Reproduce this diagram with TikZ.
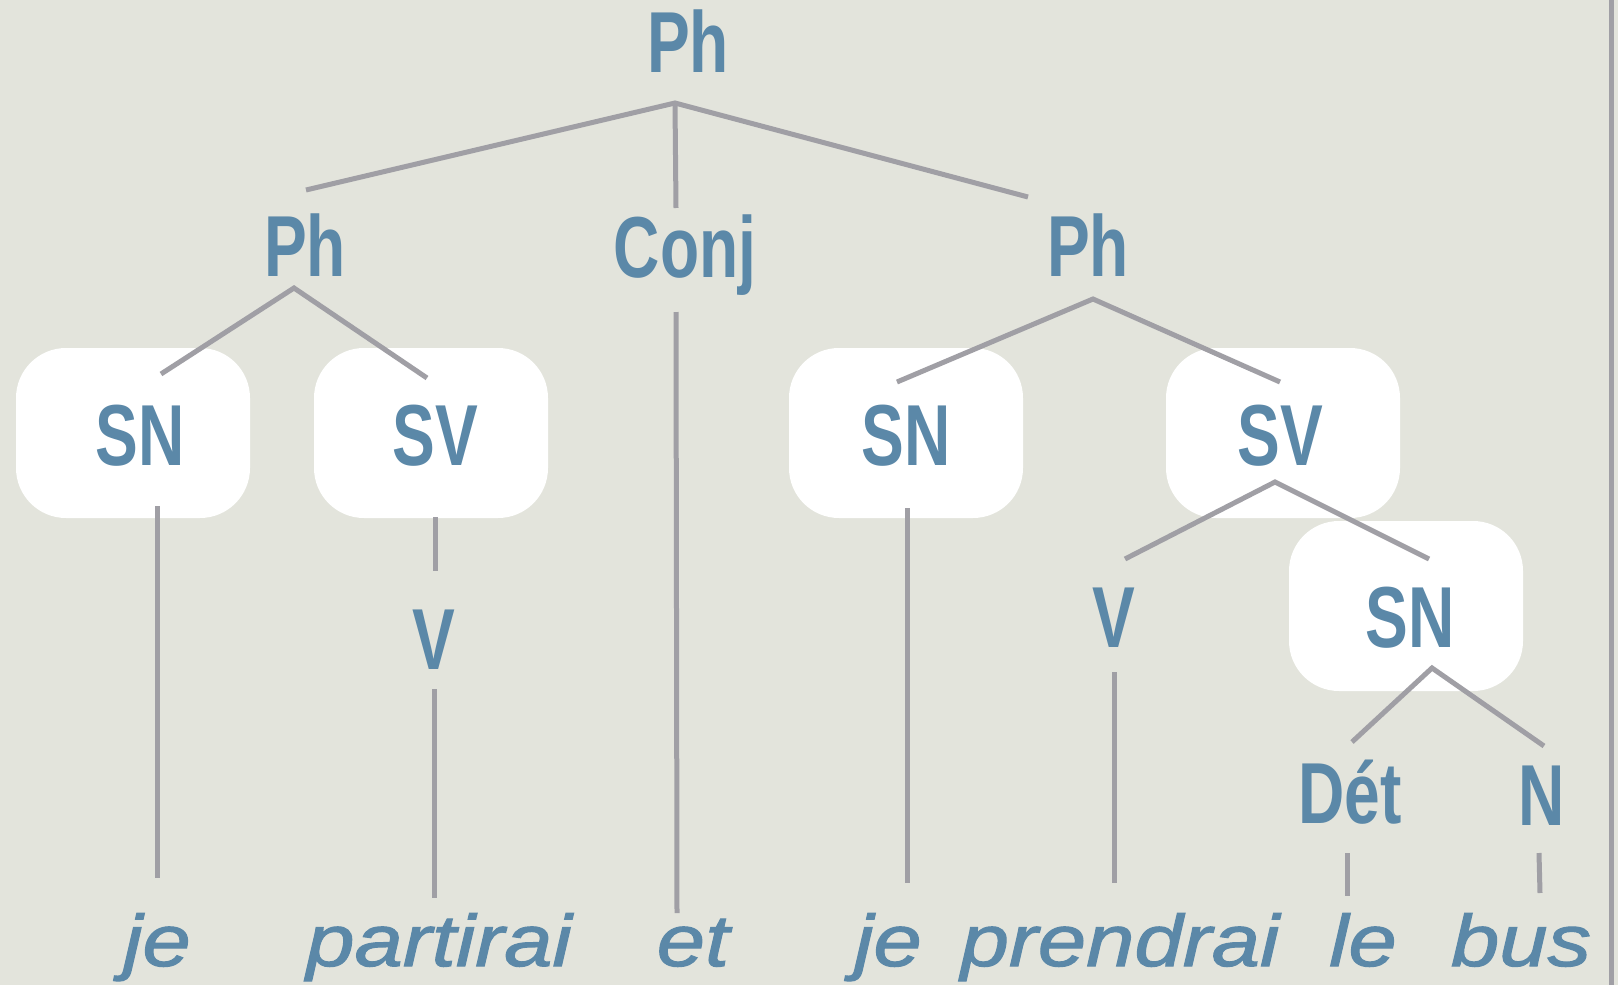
\documentclass[tikz,border=0pt]{standalone}
\usepackage{fontspec}
\setmainfont{Liberation Sans}
\newfontfamily\labfont[FakeStretch=0.74]{Liberation Sans}
\newfontfamily\wordfont[FakeStretch=1.19,FakeBold=1.5]{Liberation Sans}
\definecolor{bg}{HTML}{E3E4DC}
\definecolor{txt}{HTML}{5B88A8}
\definecolor{ln}{HTML}{A09FA5}
\begin{document}
\begin{tikzpicture}[x=1pt,y=-1pt,
 lab/.style={inner sep=0pt,anchor=base,text=txt,font=\labfont\bfseries\fontsize{86.6}{90}\selectfont},
 word/.style={inner sep=0pt,anchor=base,text=txt,font=\wordfont\itshape\fontsize{73}{80}\selectfont},
 box/.style={fill=white,rounded corners=50pt,minimum width=234pt,minimum height=170pt,inner sep=0pt},
 edge/.style={draw=ln,line width=5pt}]
\useasboundingbox (0,0) rectangle (1618,985);
\fill[bg] (0,0) rectangle (1618,985);
\draw[ln,line width=5pt] (1611,0) -- (1611,985);
% boxes
\node[box] (bSN1) at (133,433) {};
\node[box] (bSV1) at (431,433) {};
\node[box] (bSN2) at (906,433) {};
\node[box] (bSV2) at (1283,433) {};
\node[box] (bSN3) at (1406,606) {};
% junctions and ends
\coordinate (j0) at (675,103);
\coordinate (e0a) at (306,190);
\coordinate (e0b) at (676,208);
\coordinate (e0c) at (1028,197);
\coordinate (j1) at (294,288);
\coordinate (e1a) at (161,374);
\coordinate (e1b) at (427,378);
\coordinate (j2) at (1093,299);
\coordinate (e2a) at (897,382);
\coordinate (e2b) at (1280,382);
\coordinate (j3) at (1275,482);
\coordinate (e3a) at (1125,559);
\coordinate (e3b) at (1429,559);
\coordinate (j4) at (1432,668);
\coordinate (e4a) at (1352,742);
\coordinate (e4b) at (1544,746);
\draw[edge] (e0a) -- (j0) -- (e0c);
\draw[edge] (j0) -- (e0b);
\draw[edge] (e1a) -- (j1) -- (e1b);
\draw[edge] (e2a) -- (j2) -- (e2b);
\draw[edge] (e3a) -- (j3) -- (e3b);
\draw[edge] (e4a) -- (j4) -- (e4b);
% vertical stems
\coordinate (s1t) at (157,506); \coordinate (s1b) at (157,878);
\coordinate (s2t) at (435,517); \coordinate (s2b) at (435,571);
\coordinate (s3t) at (434,689); \coordinate (s3b) at (434,898);
\coordinate (s4t) at (676,312); \coordinate (s4b) at (677,913);
\coordinate (s5t) at (907,508); \coordinate (s5b) at (907,883);
\coordinate (s6t) at (1114,672); \coordinate (s6b) at (1114,883);
\coordinate (s7t) at (1347,853); \coordinate (s7b) at (1347,896);
\coordinate (s8t) at (1539,853); \coordinate (s8b) at (1540,893);
\foreach \i in {1,...,8} {\draw[edge] (s\i t) -- (s\i b);}
% labels
\node[lab] (Ph0) at (688,72) {Ph};
\node[lab] (Ph1) at (305,276) {Ph};
\node[lab] (Conj) at (685,277) {Conj};
\node[lab] (Ph2) at (1088,276) {Ph};
\node[lab] (SN1) at (140,465) {SN};
\node[lab] (SV1) at (435,465) {SV};
\node[lab] (SN2) at (906,465) {SN};
\node[lab] (SV2) at (1280,465) {SV};
\node[lab] (V1) at (434,669) {V};
\node[lab] (V2) at (1114,647) {V};
\node[lab] (SN3) at (1410,647) {SN};
\node[lab] (Det) at (1350,823) {Dét};
\node[lab] (N) at (1542,825) {N};
% words
\node[word] (w1) at (157,966) {je};
\node[word] (w2) at (439,966) {partirai};
\node[word] (w3) at (693,966) {et};
\node[word] (w4) at (888,966) {je};
\node[word] (w5) at (1120,966) {prendrai};
\node[word] (w6) at (1363,966) {le};
\node[word] (w7) at (1521,966) {bus};
\end{tikzpicture}
\end{document}
